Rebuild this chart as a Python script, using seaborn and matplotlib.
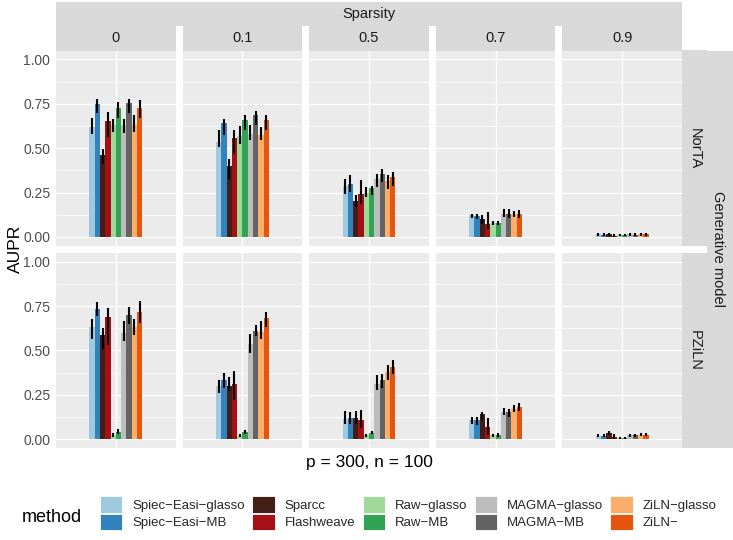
import matplotlib
matplotlib.use("Agg")
import matplotlib.pyplot as plt
from matplotlib.patches import Patch
import seaborn as sns
import pandas as pd

# ---------------- data ----------------
methods = ["Spiec-Easi-glasso", "Spiec-Easi-MB", "Sparcc", "Flashweave", "Raw-glasso",
           "Raw-MB", "MAGMA-glasso", "MAGMA-MB", "ZiLN-glasso", "ZiLN-"]
colors = ["#9ECAE1", "#3182BD", "#421E17", "#A50F15", "#A1D99B",
          "#31A354", "#BDBDBD", "#636363", "#FDAE6B", "#E6550D"]
sparsity = ["0", "0.1", "0.5", "0.7", "0.9"]
models = ["NorTA", "PZiLN"]

norta_aupr = [
    [0.617, 0.747, 0.460, 0.655, 0.630, 0.728, 0.630, 0.756, 0.630, 0.728],
    [0.535, 0.642, 0.400, 0.555, 0.568, 0.660, 0.578, 0.685, 0.576, 0.657],
    [0.287, 0.300, 0.203, 0.240, 0.250, 0.276, 0.328, 0.356, 0.313, 0.338],
    [0.122, 0.118, 0.100, 0.071, 0.079, 0.079, 0.131, 0.128, 0.128, 0.128],
    [0.015, 0.012, 0.015, 0.008, 0.010, 0.010, 0.014, 0.013, 0.014, 0.014],
]
norta_lo = [
    [0.578, 0.698, 0.409, 0.563, 0.590, 0.672, 0.587, 0.698, 0.590, 0.672],
    [0.507, 0.572, 0.328, 0.469, 0.522, 0.600, 0.544, 0.628, 0.544, 0.604],
    [0.240, 0.253, 0.169, 0.188, 0.225, 0.235, 0.281, 0.310, 0.272, 0.287],
    [0.109, 0.103, 0.075, 0.047, 0.066, 0.066, 0.113, 0.109, 0.113, 0.109],
    [0.008, 0.005, 0.007, 0.001, 0.004, 0.004, 0.007, 0.006, 0.007, 0.007],
]
norta_hi = [
    [0.668, 0.777, 0.493, 0.705, 0.666, 0.760, 0.662, 0.777, 0.687, 0.773],
    [0.604, 0.662, 0.441, 0.600, 0.623, 0.685, 0.628, 0.709, 0.619, 0.685],
    [0.328, 0.347, 0.238, 0.319, 0.281, 0.287, 0.356, 0.381, 0.347, 0.366],
    [0.131, 0.128, 0.122, 0.141, 0.090, 0.090, 0.156, 0.159, 0.146, 0.150],
    [0.023, 0.020, 0.024, 0.017, 0.017, 0.016, 0.022, 0.021, 0.022, 0.022],
]
pziln_aupr = [
    [0.630, 0.731, 0.586, 0.686, 0.026, 0.043, 0.600, 0.700, 0.630, 0.716],
    [0.299, 0.336, 0.299, 0.310, 0.019, 0.041, 0.536, 0.609, 0.603, 0.680],
    [0.113, 0.120, 0.120, 0.111, 0.023, 0.036, 0.310, 0.333, 0.378, 0.406],
    [0.107, 0.107, 0.141, 0.070, 0.021, 0.023, 0.154, 0.154, 0.173, 0.179],
    [0.020, 0.020, 0.035, 0.010, 0.005, 0.007, 0.022, 0.022, 0.025, 0.025],
]
pziln_lo = [
    [0.562, 0.694, 0.506, 0.530, 0.013, 0.032, 0.554, 0.648, 0.586, 0.656],
    [0.258, 0.291, 0.273, 0.220, 0.010, 0.032, 0.483, 0.581, 0.562, 0.633],
    [0.085, 0.088, 0.088, 0.066, 0.014, 0.028, 0.280, 0.291, 0.336, 0.370],
    [0.085, 0.081, 0.107, 0.023, 0.014, 0.010, 0.135, 0.126, 0.154, 0.160],
    [0.013, 0.012, 0.025, 0.000, 0.001, 0.002, 0.014, 0.014, 0.017, 0.017],
]
pziln_hi = [
    [0.675, 0.771, 0.624, 0.741, 0.034, 0.055, 0.665, 0.746, 0.675, 0.780],
    [0.333, 0.374, 0.348, 0.385, 0.028, 0.050, 0.592, 0.641, 0.664, 0.718],
    [0.160, 0.154, 0.160, 0.167, 0.032, 0.045, 0.359, 0.367, 0.417, 0.445],
    [0.126, 0.126, 0.154, 0.117, 0.028, 0.036, 0.177, 0.173, 0.192, 0.205],
    [0.027, 0.028, 0.045, 0.030, 0.010, 0.013, 0.030, 0.030, 0.033, 0.033],
]

rows = []
for model, A, L, Hh in [("NorTA", norta_aupr, norta_lo, norta_hi),
                        ("PZiLN", pziln_aupr, pziln_lo, pziln_hi)]:
    for si, sp in enumerate(sparsity):
        for mi, m in enumerate(methods):
            rows.append(dict(model=model, sparsity=sp, method=m,
                             aupr=A[si][mi], lo=L[si][mi], hi=Hh[si][mi]))
df = pd.DataFrame(rows)

# ---------------- style ----------------
sns.set_style("white")
plt.rcParams["font.family"] = ["Liberation Sans", "DejaVu Sans"]

W, H = 733, 540
fig = plt.figure(figsize=(W / 100, H / 100), dpi=100)


def ax_px(x0, y0, w, h):
    return fig.add_axes([x0 / W, 1 - (y0 + h) / H, w / W, h / H])


pw = 119.6
gap = 7.0
col_x = [56 + i * (pw + gap) for i in range(5)]
ph = 195.3
row_y = [50.5, 50.5 + ph + 7.0]
strip_gray = "#D9D9D9"
txt_dark = "#1A1A1A"
strip_fs = 10.5

for r, model in enumerate(models):
    for c, sp in enumerate(sparsity):
        ax = ax_px(col_x[c], row_y[r], pw, ph)
        sub = df[(df.model == model) & (df.sparsity == sp)].set_index("method").loc[methods].reset_index()
        sns.barplot(data=sub, x="method", y="aupr", hue="method", order=methods,
                    hue_order=methods, palette=colors, width=1.0, dodge=False,
                    errorbar=None, legend=False, saturation=1, linewidth=0, ax=ax)
        centers = sorted(p.get_x() + p.get_width() / 2 for p in ax.patches)
        ax.errorbar(centers, sub.aupr, yerr=[sub.aupr - sub.lo, sub.hi - sub.aupr],
                    fmt="none", ecolor="black", elinewidth=1.5, capsize=0, zorder=5)
        mid = (centers[0] + centers[-1]) / 2
        ax.set_xlim(mid - 11.3, mid + 11.3)
        ax.set_ylim(-0.05, 1.05)
        ax.set_facecolor("#EBEBEB")
        for s in ax.spines.values():
            s.set_visible(False)
        ax.set_xticks([mid])
        ax.set_xticklabels([""])
        ax.set_yticks([0, 0.25, 0.5, 0.75, 1.0])
        ax.set_yticks([0.125, 0.375, 0.625, 0.875], minor=True)
        ax.set_axisbelow(True)
        ax.grid(which="major", color="white", linewidth=1.0)
        ax.grid(which="minor", axis="y", color="white", linewidth=0.5)
        ax.xaxis.grid(True, which="major", color="white", linewidth=1.0)
        ax.tick_params(axis="x", length=0, labelbottom=False)
        ax.tick_params(axis="y", which="minor", length=0)
        if c == 0:
            ax.set_yticklabels(["0.00", "0.25", "0.50", "0.75", "1.00"])
            ax.tick_params(axis="y", which="major", length=2.7, width=0.8,
                           color="#333333", labelcolor="#4D4D4D", labelsize=10, pad=1.5)
        else:
            ax.tick_params(axis="y", which="major", length=0, labelleft=False)
        ax.set_xlabel("")
        ax.set_ylabel("")

        if r == 0:
            sax = ax_px(col_x[c], 26, pw, 24.5)
            sax.set_facecolor(strip_gray)
            sax.set_xticks([]); sax.set_yticks([])
            for s in sax.spines.values():
                s.set_visible(False)
            sax.text(0.5, 0.5, sp, ha="center", va="center", fontsize=strip_fs,
                     color=txt_dark, transform=sax.transAxes)
    rax = ax_px(682, row_y[r], 24.5, ph)
    rax.set_facecolor(strip_gray)
    rax.set_xticks([]); rax.set_yticks([])
    for s in rax.spines.values():
        s.set_visible(False)
    rax.text(0.5, 0.5, model, ha="center", va="center", rotation=-90, fontsize=strip_fs,
             color=txt_dark, transform=rax.transAxes)

# outer strips
oax = ax_px(56, 2, 626, 24)
oax.set_facecolor(strip_gray)
oax.set_xticks([]); oax.set_yticks([])
for s in oax.spines.values():
    s.set_visible(False)
oax.text(0.5, 0.5, "Sparsity", ha="center", va="center", fontsize=strip_fs,
         color=txt_dark, transform=oax.transAxes)

gax = ax_px(706.5, row_y[0], 26.5, row_y[1] + ph - row_y[0])
gax.set_facecolor(strip_gray)
gax.set_xticks([]); gax.set_yticks([])
for s in gax.spines.values():
    s.set_visible(False)
gax.text(0.45, 0.5, "Generative model", ha="center", va="center", rotation=-90,
         fontsize=strip_fs, color=txt_dark, transform=gax.transAxes)

# axis titles
fig.text(15 / W, 1 - 249 / H, "AUPR", rotation=90, ha="center", va="center",
         fontsize=12.5, color="black")
fig.text(369 / W, 1 - 463 / H, "p = 300, n = 100", ha="center", va="center",
         fontsize=12.5, color="black")

# legend (R renders the hyphens as minus signs)
legend_labels = [m.replace("-", "\u2212") for m in methods]
handles = [Patch(facecolor=col, edgecolor="white", linewidth=0.6) for col in colors]
fig.text(22 / W, 1 - 518 / H, "method", ha="left", va="center", fontsize=13, color="black")
fig.legend(handles, legend_labels, ncol=5, loc="upper left", bbox_to_anchor=(100 / W, 1 - 496 / H),
           frameon=False, fontsize=9.5, handlelength=1.7, handleheight=1.55,
           labelspacing=0.1, handletextpad=0.75, columnspacing=0.56,
           borderpad=0, borderaxespad=0)

fig.savefig("out.png", dpi=100)
